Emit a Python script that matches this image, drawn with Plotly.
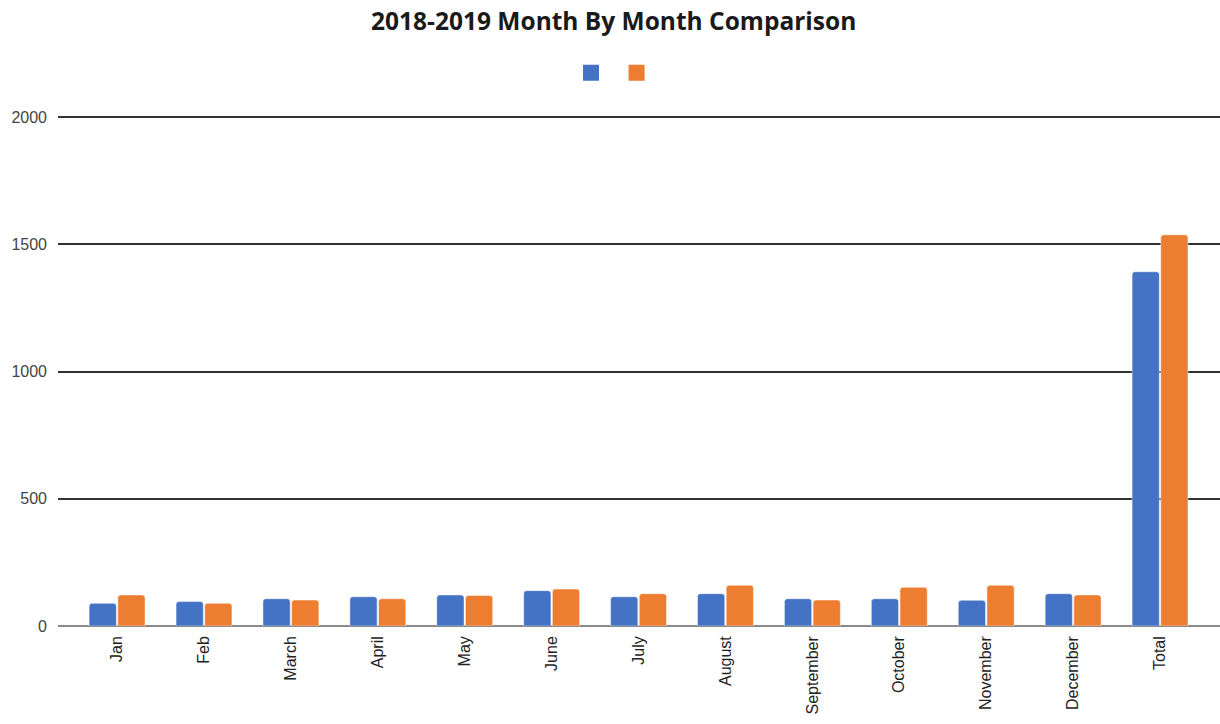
import plotly.graph_objects as go

categories = ["Jan", "Feb", "March", "April", "May", "June", "July", "August",
              "September", "October", "November", "December", "Total"]
values_2018 = [89, 96, 107, 115, 122, 139, 115, 127, 107, 107, 101, 127, 1392]
values_2019 = [122, 89, 102, 107, 120, 145, 127, 160, 102, 152, 160, 122, 1537]
y_ticks = [0, 500, 1000, 1500, 2000]

series = [("2018", values_2018, "#4472C4"), ("2019", values_2019, "#ED7D31")]

fig = go.Figure()
for key, vals, color in series:
    fig.add_trace(go.Bar(
        x=categories, y=vals, name=key, legendgroup=key, showlegend=False,
        marker=dict(color=color, cornerradius=3,
                    line=dict(color="rgba(255,255,255,0.6)", width=0.8)),
    ))
# legend swatches (square keys with no label text)
for key, vals, color in series:
    fig.add_trace(go.Scatter(
        x=[None], y=[None], mode="markers", name=" ", legendgroup=key,
        marker=dict(symbol="square", size=16, color=color),
        showlegend=True, hoverinfo="skip",
    ))

fig.update_layout(
    width=1220, height=724,
    margin=dict(l=58, r=0, t=116, b=98),
    paper_bgcolor="white", plot_bgcolor="white",
    barmode="group", bargap=0.34, bargroupgap=0.05,
    title=dict(text="<b>2018-2019 Month By Month Comparison</b>",
               x=0.503, xanchor="center", y=0.971, yanchor="middle",
               font=dict(family="Open Sans", size=24.5, color="#1a1a1a")),
    showlegend=True,
    legend=dict(orientation="h", x=0.4415, xanchor="left", y=1.085, yanchor="middle",
                font=dict(size=2), itemsizing="trace"),
    font=dict(family="Liberation Sans"),
)
fig.update_xaxes(
    type="category", range=[-0.68, 12.69], tickangle=-90,
    showgrid=False, showline=False, ticks="",
    tickfont=dict(family="Liberation Sans", size=16, color="#222"),
    ticklabelstandoff=6,
)
fig.update_yaxes(
    range=[0, 2004], tickvals=y_ticks, showgrid=True,
    gridcolor="#333", gridwidth=1.6,
    zeroline=True, zerolinecolor="#8a8a8a", zerolinewidth=2,
    showline=False, ticks="",
    tickfont=dict(family="Liberation Sans", size=16, color="#444"),
    ticklabelstandoff=10,
)

fig.write_html("out.html")
